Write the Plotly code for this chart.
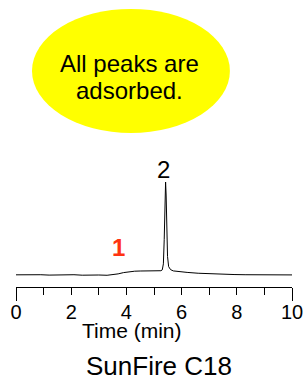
import plotly.graph_objects as go

# ---- data ----
time_min = [0.0, 0.3, 0.6, 0.9, 1.2, 1.5, 1.8, 2.1, 2.4, 2.7, 3.0, 3.3, 3.5,
            3.7, 3.9, 4.1, 4.3, 4.5, 4.7, 4.9, 5.1, 5.25, 5.30, 5.34, 5.37,
            5.40, 5.42, 5.44, 5.46, 5.49, 5.53, 5.6, 5.7, 5.9, 6.2, 6.6, 7.0,
            7.5, 7.9, 8.3, 8.7, 9.1, 9.5, 10.0]
signal = [0.2, 0.4, 0.0, 0.3, -0.1, 0.2, 0.0, 0.3, -0.2, 0.1, 0.0, -0.3, 0.2,
          1.2, 2.6, 3.6, 4.1, 4.3, 4.2, 4.3, 4.4, 4.6, 5.5, 12, 38,
          82, 100, 86, 52, 20, 9, 5.8, 4.4, 3.6, 2.8, 1.9, 1.3,
          0.8, 0.5, 0.3, 0.1, 0.2, 0.0, 0.1]

x_tickvals = list(range(0, 11))
x_ticktext = ["0", "", "2", "", "4", "", "6", "", "8", "", "10"]
end_ticks = [0, 10]

peak_labels = ["<b>1</b>", "2"]
peak_label_x = [3.7, 5.36]
peak_label_y = [30, 113]
peak_label_colors = ["#ff3311", "black"]

note_lines = ["All peaks are", "adsorbed."]
note_line_y = [0.778, 0.683]

FONT = "Liberation Sans, Arial, sans-serif"

fig = go.Figure()
fig.add_trace(go.Scatter(x=time_min, y=signal, mode="lines",
                         line=dict(color="black", width=1),
                         hoverinfo="skip", showlegend=False))
# invisible trace to host the end-tick overlay axis
fig.add_trace(go.Scatter(x=end_ticks, y=[0, 0], xaxis="x2", mode="lines",
                         line=dict(width=0), opacity=0,
                         hoverinfo="skip", showlegend=False))

for t, x, y, c in zip(peak_labels, peak_label_x, peak_label_y, peak_label_colors):
    fig.add_annotation(x=x, y=y, xref="x", yref="y", text=t, showarrow=False,
                       font=dict(family=FONT, size=24, color=c),
                       xanchor="center", yanchor="middle")

# yellow ellipse with text
fig.add_shape(type="circle", xref="paper", yref="paper",
              x0=0.058, x1=0.775, y0=0.537, y1=0.969,
              fillcolor="#ffff00", line=dict(width=0), layer="below")
for line, ly in zip(note_lines, note_line_y):
    fig.add_annotation(xref="paper", yref="paper", x=0.413, y=ly,
                       text=line, showarrow=False,
                       font=dict(family=FONT, size=24, color="black"),
                       xanchor="center", yanchor="middle")

fig.add_annotation(xref="paper", yref="paper", x=0.422, y=-0.153,
                   text="Time (min)", showarrow=False,
                   font=dict(family=FONT, size=21, color="black"),
                   xanchor="center", yanchor="middle")
fig.add_annotation(xref="paper", yref="paper", x=0.518, y=-0.275,
                   text="SunFire C18", showarrow=False,
                   font=dict(family=FONT, size=26, color="black"),
                   xanchor="center", yanchor="middle")

fig.update_layout(
    width=303, height=379,
    margin=dict(l=16, r=11, t=0, b=92),
    paper_bgcolor="white", plot_bgcolor="white",
    xaxis=dict(range=[0, 10], tickvals=x_tickvals, ticktext=x_ticktext,
               ticks="outside", ticklen=7, tickwidth=1, tickcolor="black",
               showline=True, linecolor="black", linewidth=1,
               showgrid=False, zeroline=False, ticklabeloverflow="allow",
               tickfont=dict(family=FONT, size=20, color="black")),
    xaxis2=dict(range=[0, 10], overlaying="x", anchor="y", side="bottom",
                tickvals=end_ticks, ticks="outside", ticklen=13, tickwidth=1,
                tickcolor="black", showticklabels=False, showline=False,
                showgrid=False, zeroline=False),
    yaxis=dict(range=[-12.9, 295.7], visible=False, showgrid=False,
               zeroline=False),
)

fig.write_html("out.html",
               config={"displayModeBar": False},
               post_script="document.body.style.margin='0';"
                           "document.body.style.overflow='hidden';")
